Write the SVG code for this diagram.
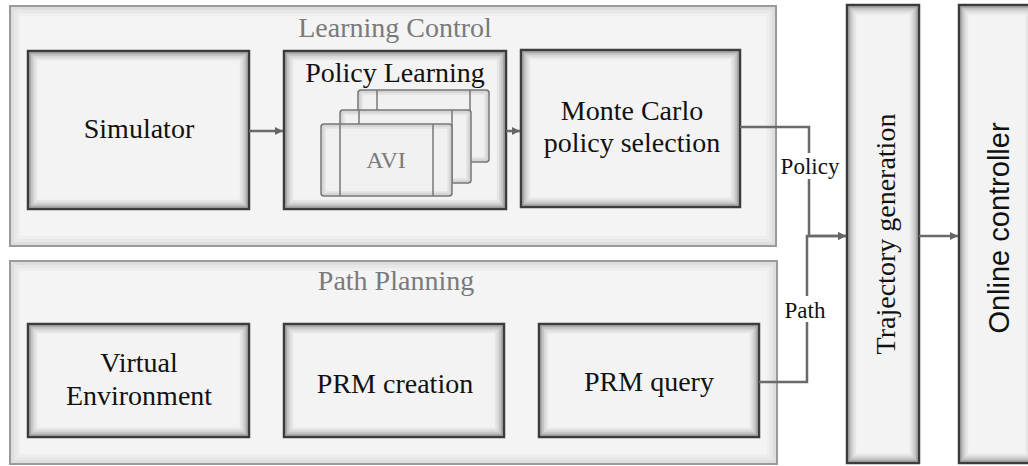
<svg xmlns="http://www.w3.org/2000/svg" width="1028" height="466" viewBox="0 0 1028 466">
  <defs>
    <marker id="arrow" markerWidth="10" markerHeight="10" refX="9" refY="5" orient="auto" markerUnits="userSpaceOnUse">
      <path d="M1,1 L9,5 L1,9 Z" fill="#666"/>
    </marker>
  </defs>
  <style>
    .group { fill: #f4f4f4; stroke: #9a9a9a; stroke-width: 2; }
    .box { fill: #f3f3f3; stroke: #3c3c3c; stroke-width: 2.5; }
    .sub { fill: #f1f1f1; stroke: #777; stroke-width: 1.5; }
    .divider { stroke: #777; stroke-width: 1.5; }
    /* inner bevel rings, darkest at the edge */
    .k1 { fill: none; stroke: #000; stroke-width: 2; stroke-opacity: 0.30; }
    .k2 { fill: none; stroke: #000; stroke-width: 2; stroke-opacity: 0.18; }
    .k3 { fill: none; stroke: #000; stroke-width: 2; stroke-opacity: 0.10; }
    .k4 { fill: none; stroke: #000; stroke-width: 2; stroke-opacity: 0.05; }
    .g1 { fill: none; stroke: #000; stroke-width: 3; stroke-opacity: 0.09; }
    .g2 { fill: none; stroke: #000; stroke-width: 3; stroke-opacity: 0.05; }
    .g3 { fill: none; stroke: #000; stroke-width: 3; stroke-opacity: 0.025; }
    .s1 { fill: none; stroke: #000; stroke-width: 2; stroke-opacity: 0.12; }
    .s2 { fill: none; stroke: #000; stroke-width: 2; stroke-opacity: 0.06; }
    .lbl { font-family: "Liberation Serif", "Times New Roman", serif; font-size: 28px; fill: #111; text-anchor: middle; }
    .title { font-family: "Liberation Serif", "Times New Roman", serif; font-size: 28px; fill: #7a7a7a; text-anchor: middle; }
    .sans { font-family: "Liberation Sans", Arial, sans-serif; font-size: 29px; fill: #111; text-anchor: middle; }
    .edge { fill: none; stroke: #6a6a6a; stroke-width: 2.5; }
    .elbl { font-family: "Liberation Serif", "Times New Roman", serif; font-size: 23px; fill: #111; text-anchor: middle; }
  </style>

  <rect width="1028" height="466" fill="#ffffff"/>

  <!-- container: learning control -->
  <g id="learning-control">
    <rect class="group" x="10" y="6" width="766" height="240"/>
    <rect class="g1" x="12.5" y="8.5" width="761" height="235"/>
    <rect class="g2" x="15.5" y="11.5" width="755" height="229"/>
    <rect class="g3" x="18.5" y="14.5" width="749" height="223"/>
    <text class="title" x="395" y="37">Learning Control</text>
  </g>

  <!-- container: path planning -->
  <g id="path-planning">
    <rect class="group" x="10" y="261" width="767" height="203"/>
    <rect class="g1" x="12.5" y="263.5" width="762" height="198"/>
    <rect class="g2" x="15.5" y="266.5" width="756" height="192"/>
    <rect class="g3" x="18.5" y="269.5" width="750" height="186"/>
    <text class="title" x="396" y="290">Path Planning</text>
  </g>

  <g id="simulator">
    <rect class="box" x="28" y="51" width="221" height="158"/>
    <rect class="k1" x="30.25" y="53.25" width="216.5" height="153.5"/>
    <rect class="k2" x="32.25" y="55.25" width="212.5" height="149.5"/>
    <rect class="k3" x="34.25" y="57.25" width="208.5" height="145.5"/>
    <rect class="k4" x="36.25" y="59.25" width="204.5" height="141.5"/>
    <text class="lbl" x="139" y="138">Simulator</text>
  </g>

  <g id="policy-learning">
    <rect class="box" x="284" y="51" width="222" height="158"/>
    <rect class="k1" x="286.25" y="53.25" width="217.5" height="153.5"/>
    <rect class="k2" x="288.25" y="55.25" width="213.5" height="149.5"/>
    <rect class="k3" x="290.25" y="57.25" width="209.5" height="145.5"/>
    <rect class="k4" x="292.25" y="59.25" width="205.5" height="141.5"/>
    <text class="lbl" x="395" y="82">Policy Learning</text>
    <!-- stacked AVI process cards, back to front -->
    <rect class="sub" x="358" y="90" width="131" height="72" rx="3"/>
    <rect class="s1" x="359.75" y="91.75" width="127.5" height="68.5"/>
    <rect class="s2" x="361.75" y="93.75" width="123.5" height="64.5"/>
    <line class="divider" x1="377" y1="90" x2="377" y2="162"/>
    <line class="divider" x1="470" y1="90" x2="470" y2="162"/>
    <rect class="sub" x="340" y="110" width="131" height="73" rx="3"/>
    <rect class="s1" x="341.75" y="111.75" width="127.5" height="69.5"/>
    <rect class="s2" x="343.75" y="113.75" width="123.5" height="65.5"/>
    <line class="divider" x1="359" y1="110" x2="359" y2="183"/>
    <line class="divider" x1="452" y1="110" x2="452" y2="183"/>
    <rect class="sub" x="321" y="124" width="131" height="72" rx="3"/>
    <rect class="s1" x="322.75" y="125.75" width="127.5" height="68.5"/>
    <rect class="s2" x="324.75" y="127.75" width="123.5" height="64.5"/>
    <line class="divider" x1="340" y1="124" x2="340" y2="196"/>
    <line class="divider" x1="433" y1="124" x2="433" y2="196"/>
    <text class="title" x="386" y="168" style="font-size:24px">AVI</text>
  </g>

  <g id="monte-carlo">
    <rect class="box" x="521" y="50" width="219" height="157"/>
    <rect class="k1" x="523.25" y="52.25" width="214.5" height="152.5"/>
    <rect class="k2" x="525.25" y="54.25" width="210.5" height="148.5"/>
    <rect class="k3" x="527.25" y="56.25" width="206.5" height="144.5"/>
    <rect class="k4" x="529.25" y="58.25" width="202.5" height="140.5"/>
    <text class="lbl" x="632" y="120">Monte Carlo</text>
    <text class="lbl" x="632" y="152">policy selection</text>
  </g>

  <g id="virtual-environment">
    <rect class="box" x="28" y="324" width="221" height="113"/>
    <rect class="k1" x="30.25" y="326.25" width="216.5" height="108.5"/>
    <rect class="k2" x="32.25" y="328.25" width="212.5" height="104.5"/>
    <rect class="k3" x="34.25" y="330.25" width="208.5" height="100.5"/>
    <rect class="k4" x="36.25" y="332.25" width="204.5" height="96.5"/>
    <text class="lbl" x="139" y="372">Virtual</text>
    <text class="lbl" x="139" y="405">Environment</text>
  </g>

  <g id="prm-creation">
    <rect class="box" x="284" y="324" width="220" height="113"/>
    <rect class="k1" x="286.25" y="326.25" width="215.5" height="108.5"/>
    <rect class="k2" x="288.25" y="328.25" width="211.5" height="104.5"/>
    <rect class="k3" x="290.25" y="330.25" width="207.5" height="100.5"/>
    <rect class="k4" x="292.25" y="332.25" width="203.5" height="96.5"/>
    <text class="lbl" x="395" y="393">PRM creation</text>
  </g>

  <g id="prm-query">
    <rect class="box" x="539" y="324" width="220" height="113"/>
    <rect class="k1" x="541.25" y="326.25" width="215.5" height="108.5"/>
    <rect class="k2" x="543.25" y="328.25" width="211.5" height="104.5"/>
    <rect class="k3" x="545.25" y="330.25" width="207.5" height="100.5"/>
    <rect class="k4" x="547.25" y="332.25" width="203.5" height="96.5"/>
    <text class="lbl" x="649" y="391">PRM query</text>
  </g>

  <g id="trajectory-generation">
    <rect class="box" x="847" y="5" width="72" height="458"/>
    <rect class="k1" x="849.25" y="7.25" width="67.5" height="453.5"/>
    <rect class="k2" x="851.25" y="9.25" width="63.5" height="449.5"/>
    <rect class="k3" x="853.25" y="11.25" width="59.5" height="445.5"/>
    <rect class="k4" x="855.25" y="13.25" width="55.5" height="441.5"/>
    <text class="lbl" transform="translate(895 234) rotate(-90)">Trajectory generation</text>
  </g>

  <g id="online-controller">
    <rect class="box" x="959" y="5" width="76" height="458"/>
    <rect class="k1" x="961.25" y="7.25" width="71.5" height="453.5"/>
    <rect class="k2" x="963.25" y="9.25" width="67.5" height="449.5"/>
    <rect class="k3" x="965.25" y="11.25" width="63.5" height="445.5"/>
    <rect class="k4" x="967.25" y="13.25" width="59.5" height="441.5"/>
    <text class="sans" transform="translate(1009 228) rotate(-90)">Online controller</text>
  </g>

  <!-- connectors -->
  <g id="connectors">
    <line class="edge" x1="249" y1="131" x2="283" y2="131" marker-end="url(#arrow)"/>
    <line class="edge" x1="506" y1="131" x2="520" y2="131" marker-end="url(#arrow)"/>
    <path class="edge" d="M740 127 H809 V236 H846" marker-end="url(#arrow)"/>
    <path class="edge" d="M759 382 H807 V236 H846" marker-end="url(#arrow)"/>
    <line class="edge" x1="919" y1="236" x2="958" y2="236" marker-end="url(#arrow)"/>
    <rect x="778" y="153" width="63" height="26" fill="#ffffff"/>
    <text class="elbl" x="810" y="174">Policy</text>
    <rect x="782" y="296" width="45" height="26" fill="#ffffff"/>
    <text class="elbl" x="805" y="318">Path</text>
  </g>
</svg>
